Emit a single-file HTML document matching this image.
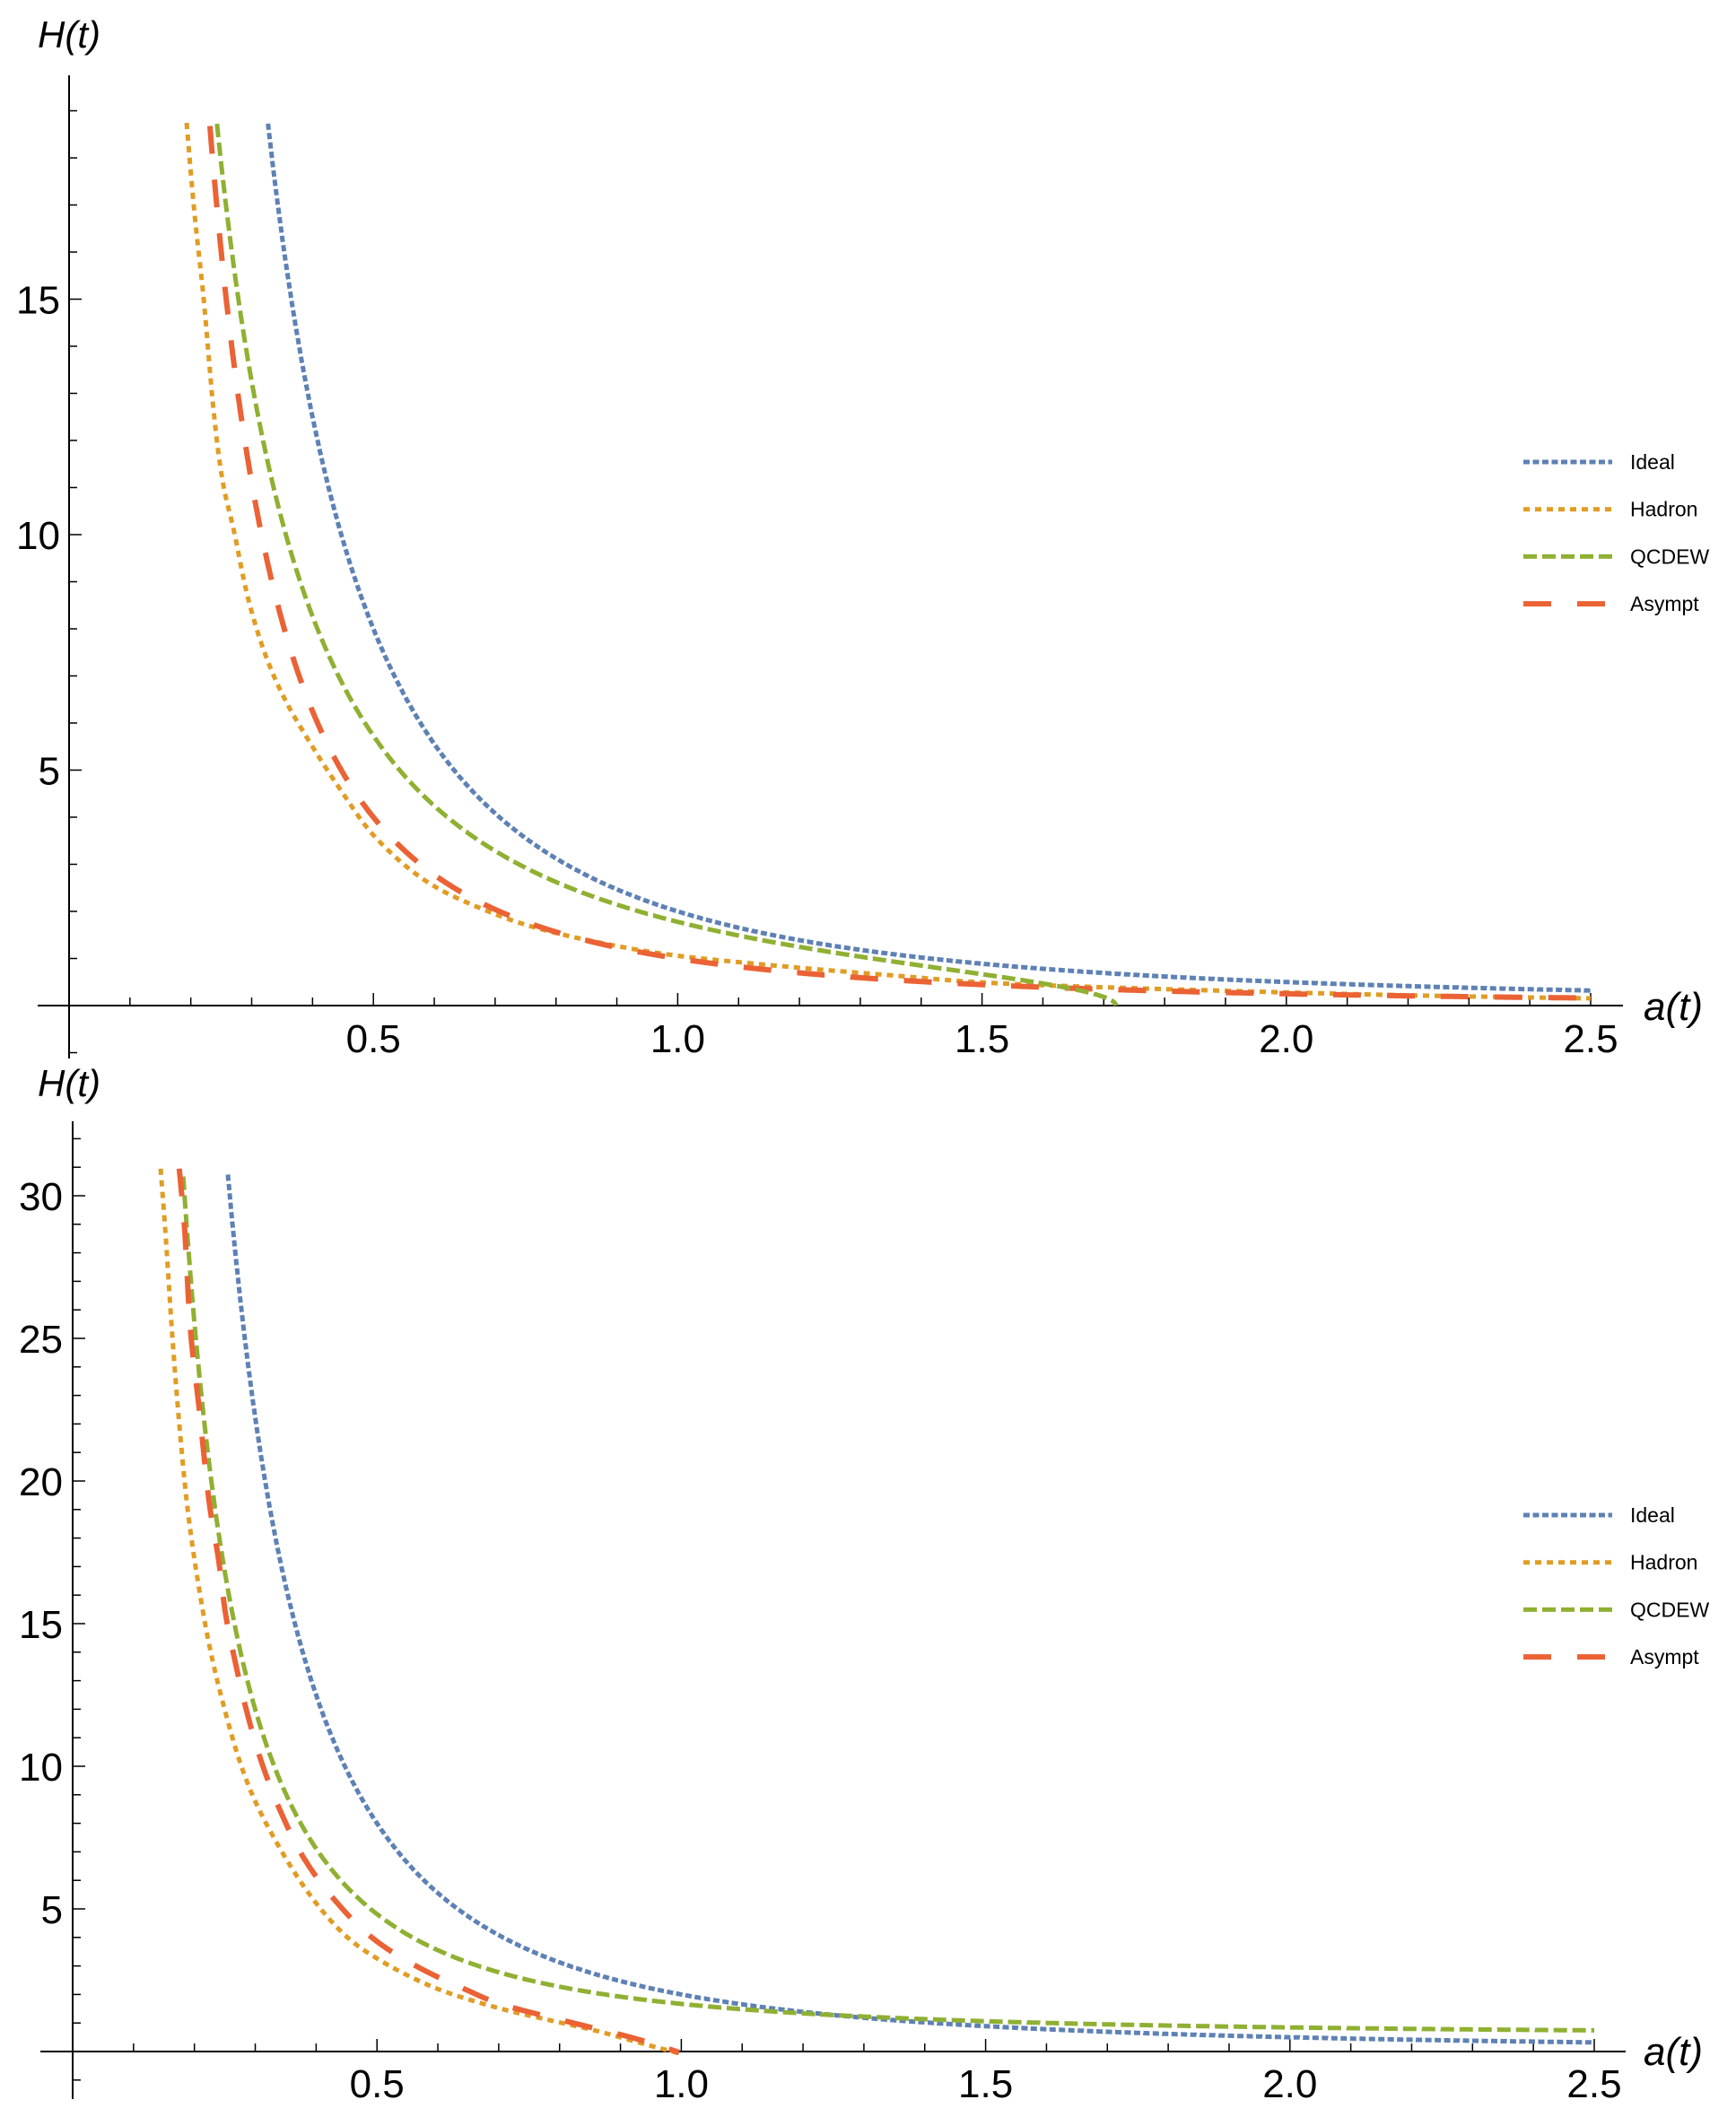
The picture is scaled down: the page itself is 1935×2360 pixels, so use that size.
<!DOCTYPE html>
<html><head><meta charset="utf-8">
<style>
html,body{margin:0;padding:0;background:#fff;}
svg{display:block;}
text{font-family:"Liberation Sans",sans-serif;fill:#000;}
</style></head>
<body>
<svg id="s" xmlns="http://www.w3.org/2000/svg" width="1935" height="2360" viewBox="0 0 1935 2360">
<rect width="1935" height="2360" fill="#fff"/>
<g id="axes" stroke="#000" stroke-width="2" fill="none"></g>
<g id="curves" fill="none" stroke-linecap="butt"></g>
<g id="labels"></g>
</svg>
<script>
(function(){
var NS="http://www.w3.org/2000/svg";
var axes=document.getElementById('axes'),curves=document.getElementById('curves'),labels=document.getElementById('labels');
function el(tag,attrs,parent,txt){var e=document.createElementNS(NS,tag);for(var k in attrs)e.setAttribute(k,attrs[k]);if(txt!==undefined)e.textContent=txt;parent.appendChild(e);return e;}
function line(x1,y1,x2,y2,w){el('line',{x1:x1,y1:y1,x2:x2,y2:y2,'stroke-width':w||2},axes);}
var C={b:'#5E81B5',o:'#E19C24',g:'#8FB032',r:'#EB6235'};
var D={b:'7 3.5',o:'7 6',g:'15 6',r:'31 29'};
var W={b:5,o:5,g:5,r:6};
function path(pts){
  var d='M'+pts[0][0].toFixed(1)+','+pts[0][1].toFixed(1);
  for(var i=0;i<pts.length-1;i++){
    var p0=pts[i-1]||pts[i],p1=pts[i],p2=pts[i+1],p3=pts[i+2]||p2;
    var c1=[p1[0]+(p2[0]-p0[0])/6,p1[1]+(p2[1]-p0[1])/6];
    var c2=[p2[0]-(p3[0]-p1[0])/6,p2[1]-(p3[1]-p1[1])/6];
    d+='C'+c1[0].toFixed(1)+','+c1[1].toFixed(1)+' '+c2[0].toFixed(1)+','+c2[1].toFixed(1)+' '+p2[0].toFixed(1)+','+p2[1].toFixed(1);
  }
  return d;
}
function curve(k,pts){el('path',{d:path(pts),stroke:C[k],'stroke-width':W[k],'stroke-dasharray':D[k]},curves);}
function poly(k,pts){var d='M'+pts.map(function(p){return p[0].toFixed(1)+','+p[1].toFixed(1);}).join('L');el('path',{d:d,stroke:C[k],'stroke-width':W[k],'stroke-dasharray':D[k]},curves);}
function fn(f,a0,a1,X,Y,sy,hmax){var pts=[];var N=3000;for(var i=0;i<=N;i++){var a=a0+(a1-a0)*i/N;var h=f(a);if(isNaN(h))continue;if(h>hmax)continue;pts.push([X+678.4*a,Y-sy*h]);}return pts;}
function z6(a){return a.map(function(p){return [150+p[0]/1.3067,300+p[1]/1.912];});}
function z7(a){return a.map(function(p){return [150+p[0]/2.412,1290+p[1]/1.568];});}

/* ---------- TOP PLOT ---------- */
var X0=77,Y0=1121,sx=678.4;
line(42,Y0,1809,Y0);
line(X0,84,X0,1180);
for(var i=1;i<=25;i++){var x=X0+sx*i/10;var maj=(i%5==0);line(x,Y0,x,Y0-(maj?14:9),1.5);}
for(var h=-1;h<=19;h++){if(h==0)continue;var y=Y0-52.5*h;var maj=(h%5==0);line(X0,y,X0+(maj?14:9),y,1.5);}
[[0.5,'0.5'],[1,'1.0'],[1.5,'1.5'],[2,'2.0'],[2.5,'2.5']].forEach(function(t){el('text',{x:X0+sx*t[0],y:1173,'font-size':44,'text-anchor':'middle'},labels,t[1]);});
[[5,'5'],[10,'10'],[15,'15']].forEach(function(t){el('text',{x:67,y:Y0-52.5*t[0]+16,'font-size':44,'text-anchor':'end'},labels,t[1]);});
el('text',{x:42,y:53,'font-size':42,'font-style':'italic'},labels,'H(t)');
el('text',{x:1832,y:1137,'font-size':44,'font-style':'italic'},labels,'a(t)');

poly('b',fn(function(a){return 2/(a*a);},0.31,2.5,X0,Y0,52.5,18.75));
curve('o',[[208,137],[217,240],[227,333]].concat(z6([[115,300],[128,450],[145,560],[165,700],[190,820],[220,920],[260,1020],[300,1110],[350,1210],[420,1300],[500,1360],[600,1410],[750,1455],[900,1480],[1100,1505],[1300,1525]]),[[1500,1108],[1773,1113]]));
poly('r',fn(function(a){return 1/(a*a);},0.22,2.5,X0,Y0,52.5,18.75));
poly('g',fn(function(a){var r=Math.pow(a/1.72,5);if(r>1)return NaN;return 1.84/Math.pow(a,1.64)*Math.sqrt(1-r);},0.22,1.72,X0,Y0,52.5,18.75).concat([[77+678.4*1.72,1121]]));

function legend(y0){
  var names=[['b','Ideal'],['o','Hadron'],['g','QCDEW'],['r','Asympt']];
  names.forEach(function(n,i){var y=y0+i*52.7;
    el('line',{x1:1698,y1:y,x2:1797,y2:y,stroke:C[n[0]],'stroke-width':W[n[0]],'stroke-dasharray':D[n[0]]},curves);
    el('text',{x:1817,y:y+8,'font-size':23},labels,n[1]);});
}
legend(515);

/* ---------- BOTTOM PLOT ---------- */
var X1=81,Y1=2287,sy=31.8;
line(45,Y1,1812,Y1);
line(X1,1250,X1,2340);
for(var i=1;i<=25;i++){var x=X1+sx*i/10;var maj=(i%5==0);line(x,Y1,x,Y1-(maj?14:9),1.5);}
for(var h=-1;h<=32;h++){if(h==0)continue;var y=Y1-sy*h;var maj=(h%5==0);line(X1,y,X1+(maj?14:9),y,1.5);}
[[0.5,'0.5'],[1,'1.0'],[1.5,'1.5'],[2,'2.0'],[2.5,'2.5']].forEach(function(t){el('text',{x:X1+sx*t[0],y:2338,'font-size':44,'text-anchor':'middle'},labels,t[1]);});
[[5,'5'],[10,'10'],[15,'15'],[20,'20'],[25,'25'],[30,'30']].forEach(function(t){el('text',{x:70,y:Y1-sy*t[0]+16,'font-size':44,'text-anchor':'end'},labels,t[1]);});
el('text',{x:42,y:1222,'font-size':42,'font-style':'italic'},labels,'H(t)');
el('text',{x:1832,y:2302,'font-size':44,'font-style':'italic'},labels,'a(t)');

poly('b',fn(function(a){return 2/(a*a);},0.24,2.5,X1,Y1,sy,30.9));
poly('g',fn(function(a){return 1.12/Math.pow(a,1.93)+0.55;},0.17,2.5,X1,Y1,sy,30.9));
curve('o',z7([[70,20],[85,150],[100,300],[118,450],[140,600],[165,720],[200,850],[240,960],[290,1070],[350,1160],[450,1270],[550,1350],[650,1400],[800,1450]]).concat([[550,2237],[608,2251],[665,2264],[712,2277],[757,2289]]));
curve('r',z7([[120,20],[135,130],[150,300],[172,430],[200,600],[225,700],[245,800],[270,880],[300,965],[340,1055],[390,1140],[455,1225],[540,1300],[640,1365],[760,1415],[890,1455]]).concat([[561,2235],[634,2254],[695,2269],[730,2279],[757,2288]]));
legend(1689);
})();
</script>
</body></html>
